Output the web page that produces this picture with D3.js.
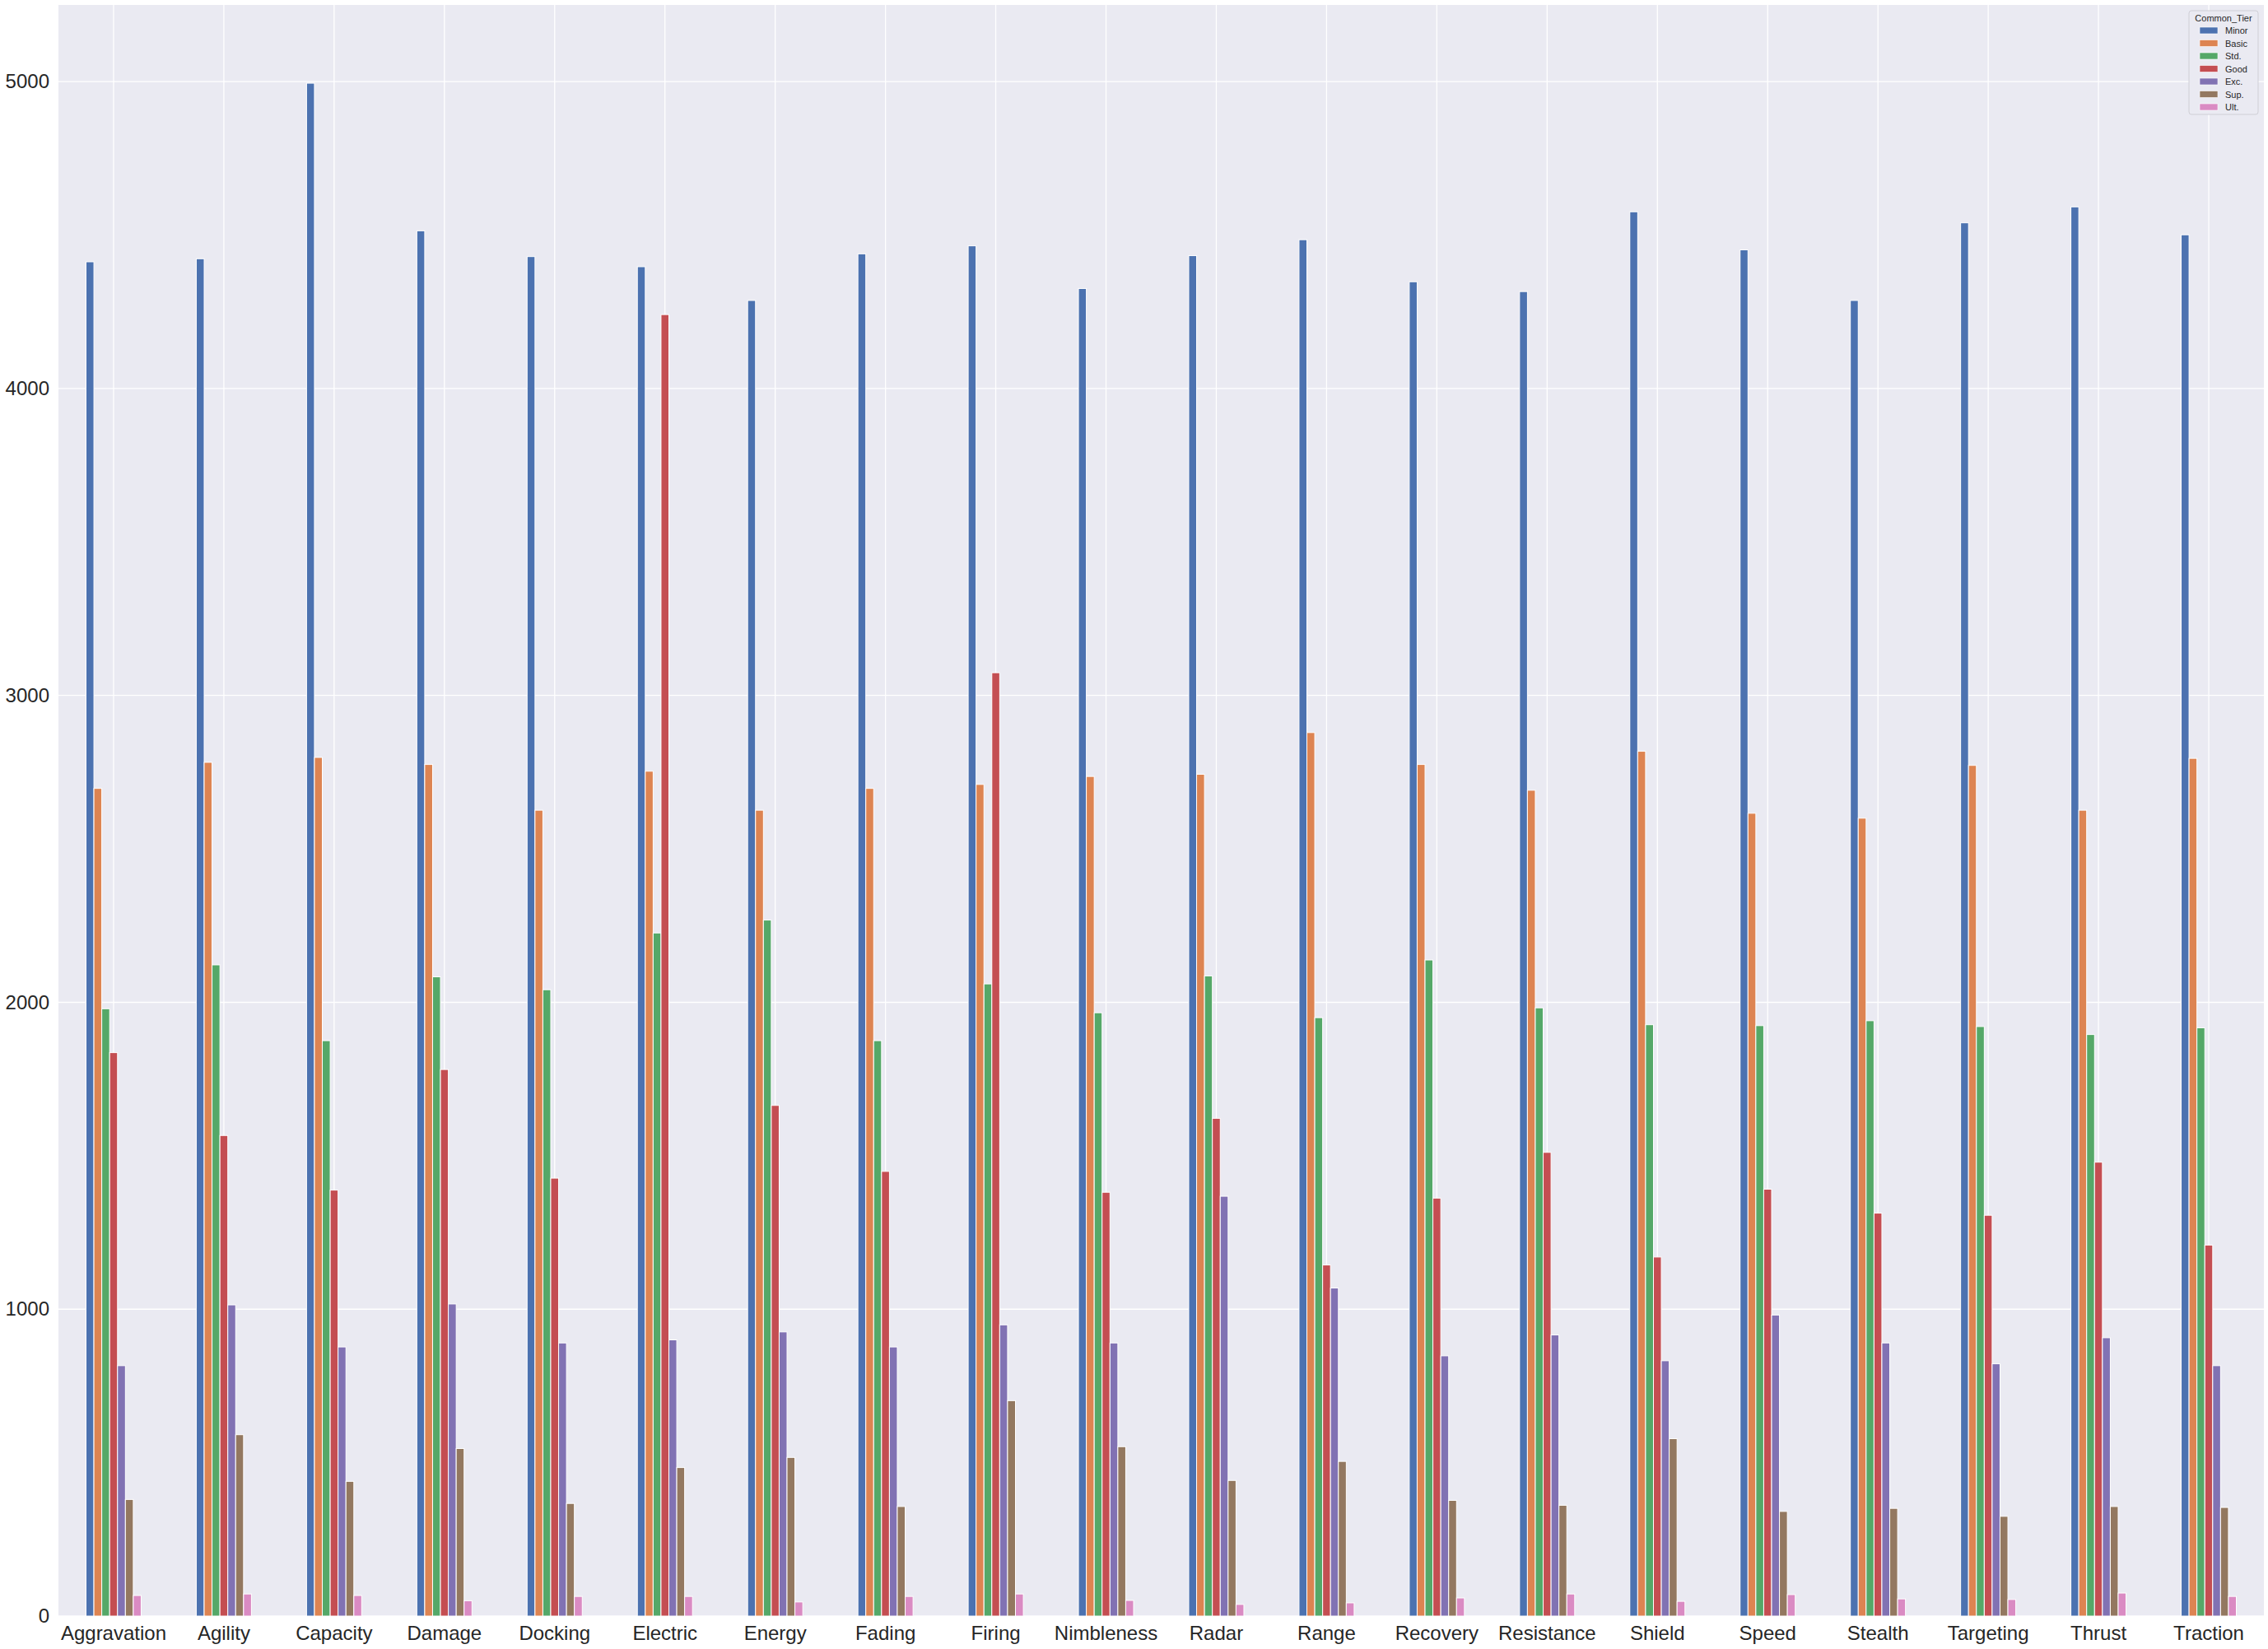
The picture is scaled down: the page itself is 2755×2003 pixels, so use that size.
<!doctype html>
<html>
<head>
  <meta charset="utf-8">
  <script src="https://cdnjs.cloudflare.com/ajax/libs/d3/7.8.5/d3.min.js"></script>
  <style>
    body { margin: 0; background: white; }
    text { font-family: Arial, 'Liberation Sans', sans-serif; fill: #262626; }
  </style>
</head>
<body>
  <script>
    const categories = ['Aggravation', 'Agility', 'Capacity', 'Damage', 'Docking', 'Electric', 'Energy',
      'Fading', 'Firing', 'Nimbleness', 'Radar', 'Range', 'Recovery', 'Resistance', 'Shield', 'Speed',
      'Stealth', 'Targeting', 'Thrust', 'Traction'];
    const tiers = ['Minor', 'Basic', 'Std.', 'Good', 'Exc.', 'Sup.', 'Ult.'];
    const colors = ['#4C72B0', '#DD8452', '#55A868', '#C44E52', '#8172B3', '#937860', '#DA8BC3'];

    // one array per tier, in category order
    const minor = [4413, 4423, 4995, 4514, 4430, 4397, 4287, 4439, 4465, 4326, 4433, 4485, 4348, 4316, 4576, 4452, 4287, 4540, 4592, 4501];
    const basic = [2697, 2782, 2798, 2775, 2626, 2753, 2626, 2697, 2710, 2736, 2743, 2879, 2775, 2691, 2818, 2616, 2600, 2772, 2626, 2795];
    const std   = [1979, 2122, 1875, 2083, 2041, 2226, 2268, 1875, 2060, 1966, 2086, 1950, 2138, 1982, 1927, 1924, 1940, 1921, 1895, 1917];
    const good  = [1836, 1566, 1388, 1781, 1427, 4241, 1664, 1449, 3074, 1381, 1622, 1144, 1362, 1511, 1170, 1391, 1313, 1306, 1479, 1209];
    const exc   = [816, 1014, 877, 1017, 890, 900, 926, 877, 949, 890, 1368, 1069, 848, 916, 832, 981, 890, 822, 907, 816];
    const sup   = [380, 591, 439, 546, 367, 484, 517, 357, 702, 552, 442, 504, 377, 361, 578, 341, 351, 325, 357, 354];
    const ult   = [67, 72, 67, 50, 64, 64, 46, 64, 72, 51, 38, 43, 59, 72, 48, 70, 56, 54, 75, 64];
    const series = [minor, basic, std, good, exc, sup, ult];
    const yTicks = [0, 1000, 2000, 3000, 4000, 5000];

    const width = 2755, height = 2003;
    const margin = {left: 71, right: 5, top: 6, bottom: 40};
    const yMax = 5250;

    const svg = d3.select('body').append('svg')
      .attr('width', width)
      .attr('height', height);

    const x = d3.scaleBand()
      .domain(categories)
      .range([margin.left, width - margin.right])
      .paddingInner(0.5)
      .paddingOuter(0.25);
    const xInner = d3.scaleBand()
      .domain(tiers)
      .range([0, x.bandwidth()]);
    const y = d3.scaleLinear()
      .domain([0, yMax])
      .range([height - margin.bottom, margin.top]);

    // plot background
    svg.append('rect')
      .attr('x', margin.left)
      .attr('y', margin.top)
      .attr('width', width - margin.left - margin.right)
      .attr('height', height - margin.top - margin.bottom)
      .attr('fill', '#EAEAF2');

    // grid
    svg.append('g').selectAll('line').data(yTicks).join('line')
      .attr('x1', margin.left).attr('x2', width - margin.right)
      .attr('y1', d => y(d)).attr('y2', d => y(d))
      .attr('stroke', 'white').attr('stroke-width', 1.3);
    svg.append('g').selectAll('line').data(categories).join('line')
      .attr('x1', d => x(d) + x.bandwidth() / 2).attr('x2', d => x(d) + x.bandwidth() / 2)
      .attr('y1', margin.top).attr('y2', height - margin.bottom)
      .attr('stroke', 'white').attr('stroke-width', 1.3);

    // bars
    const groups = svg.append('g').selectAll('g').data(categories).join('g')
      .attr('transform', d => `translate(${x(d)},0)`);
    groups.selectAll('rect')
      .data((c, ci) => tiers.map((t, ti) => ({tier: t, ti: ti, value: series[ti][ci]})))
      .join('rect')
      .attr('x', d => xInner(d.tier))
      .attr('width', xInner.bandwidth())
      .attr('y', d => y(d.value))
      .attr('height', d => y(0) - y(d.value))
      .attr('fill', d => colors[d.ti])
      .attr('stroke', 'white')
      .attr('stroke-width', 1);

    // axes
    const yAxis = svg.append('g')
      .attr('transform', `translate(${margin.left},0)`)
      .call(d3.axisLeft(y).tickValues(yTicks).tickFormat(d3.format('d')).tickSize(0).tickPadding(11));
    yAxis.select('.domain').remove();
    yAxis.selectAll('text').style('font-size', '24px').attr('fill', '#262626');

    const xAxis = svg.append('g')
      .attr('transform', `translate(0,${height - margin.bottom})`)
      .call(d3.axisBottom(x).tickSize(0).tickPadding(12));
    xAxis.select('.domain').remove();
    xAxis.selectAll('text').style('font-size', '24px').attr('fill', '#262626');

    // legend
    const legend = svg.append('g');
    legend.append('rect')
      .attr('x', 2659).attr('y', 13)
      .attr('width', 84).attr('height', 126)
      .attr('rx', 3)
      .attr('fill', '#EAEAF2')
      .attr('stroke', '#cfcfd6')
      .attr('stroke-width', 1);
    legend.append('text')
      .attr('x', 2701).attr('y', 26)
      .attr('text-anchor', 'middle')
      .style('font-size', '11px')
      .text('Common_Tier');
    const items = legend.selectAll('g.item').data(tiers).join('g')
      .attr('class', 'item')
      .attr('transform', (d, i) => `translate(0,${37 + i * 15.5})`);
    items.append('rect')
      .attr('x', 2672).attr('y', -4)
      .attr('width', 22).attr('height', 8)
      .attr('fill', (d, i) => colors[i])
      .attr('stroke', 'white').attr('stroke-width', 0.6);
    items.append('text')
      .attr('x', 2703).attr('y', 4)
      .style('font-size', '11px')
      .text(d => d);
  </script>
</body>
</html>
